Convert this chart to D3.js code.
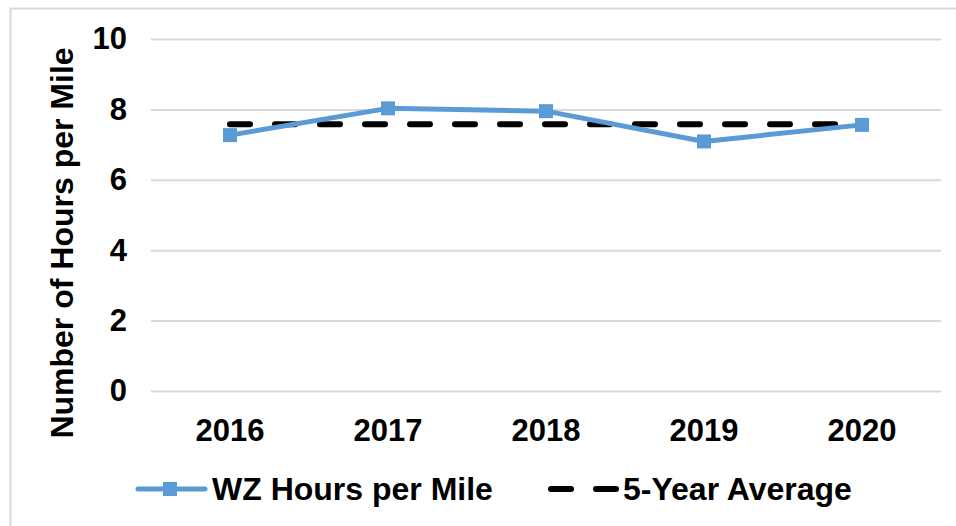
<!DOCTYPE html>
<html>
<head>
<meta charset="utf-8">
<script src="https://cdn.jsdelivr.net/npm/d3@7"></script>
<style>
  body { margin: 0; background: #fff; }
  text { font-family: "Liberation Sans", Arial, sans-serif; font-weight: bold; fill: #000; }
</style>
</head>
<body>
<div id="chart"></div>
<script>
const years = ["2016", "2017", "2018", "2019", "2020"];
const hoursPerMile = [7.27, 8.03, 7.95, 7.09, 7.56];
const fiveYearAverage = [7.58, 7.58, 7.58, 7.58, 7.58];
const yTicks = [0, 2, 4, 6, 8, 10];

const width = 956, height = 526;
const margin = { left: 151, right: 15, top: 39, bottom: 135 };

const svg = d3.select('#chart').append('svg')
    .attr('width', width)
    .attr('height', height);

// outer frame (runs off the right and bottom edges)
svg.append('rect')
    .attr('x', 10.5).attr('y', 8.5)
    .attr('width', 960).attr('height', 530)
    .attr('fill', 'none')
    .attr('stroke', '#d9d9d9')
    .attr('stroke-width', 2);

const x = d3.scaleBand()
    .domain(years)
    .range([margin.left, width - margin.right]);

const y = d3.scaleLinear()
    .domain([0, 10])
    .range([height - margin.bottom, margin.top]);

// gridlines
svg.append('g')
    .attr('transform', `translate(${margin.left},0)`)
    .call(d3.axisLeft(y).tickValues(yTicks).tickSize(-(width - margin.left - margin.right)).tickFormat(''))
    .call(g => g.select('.domain').remove())
    .call(g => g.selectAll('line').attr('stroke', '#d9d9d9').attr('stroke-width', 2));

// y tick labels
svg.append('g')
    .attr('transform', `translate(${margin.left},0)`)
    .call(d3.axisLeft(y).tickValues(yTicks).tickSize(0).tickPadding(24))
    .call(g => g.select('.domain').remove())
    .call(g => g.selectAll('text')
        .style('font-size', '31px')
        .style('font-family', '"Liberation Sans", Arial, sans-serif')
        .style('font-weight', 'bold')
        .attr('fill', '#000'));

// x tick labels
svg.append('g')
    .attr('transform', `translate(0,${height - margin.bottom})`)
    .call(d3.axisBottom(x).tickSize(0).tickPadding(28))
    .call(g => g.select('.domain').remove())
    .call(g => g.selectAll('text')
        .style('font-size', '31px')
        .style('font-family', '"Liberation Sans", Arial, sans-serif')
        .style('font-weight', 'bold')
        .attr('fill', '#000'));

// y axis title
svg.append('text')
    .attr('transform', `translate(73,243) rotate(-90)`)
    .attr('text-anchor', 'middle')
    .style('font-size', '32px')
    .text('Number of Hours per Mile');

const cx = d => x(d) + x.bandwidth() / 2;

const line = d3.line()
    .x((d, i) => cx(years[i]))
    .y(d => y(d));

// 5-year average dashed line
svg.append('path')
    .datum(fiveYearAverage)
    .attr('d', line)
    .attr('fill', 'none')
    .attr('stroke', '#000')
    .attr('stroke-width', 6)
    .attr('stroke-dasharray', '20 25')
    .attr('stroke-linecap', 'round');

// WZ hours per mile
svg.append('path')
    .datum(hoursPerMile)
    .attr('d', line)
    .attr('fill', 'none')
    .attr('stroke', '#5b9bd5')
    .attr('stroke-width', 5)
    .attr('stroke-linejoin', 'round');

svg.selectAll('.marker')
    .data(hoursPerMile)
    .enter()
    .append('rect')
    .attr('class', 'marker')
    .attr('x', (d, i) => cx(years[i]) - 7)
    .attr('y', d => y(d) - 7)
    .attr('width', 14)
    .attr('height', 14)
    .attr('fill', '#5b9bd5');

// legend
const legendY = 489;
const legend = svg.append('g');

legend.append('line')
    .attr('x1', 138).attr('x2', 205)
    .attr('y1', legendY).attr('y2', legendY)
    .attr('stroke', '#5b9bd5')
    .attr('stroke-width', 5)
    .attr('stroke-linecap', 'round');

legend.append('rect')
    .attr('x', 163).attr('y', legendY - 7)
    .attr('width', 14).attr('height', 14)
    .attr('fill', '#5b9bd5');

legend.append('text')
    .attr('x', 212).attr('y', legendY)
    .attr('dy', '0.35em')
    .style('font-size', '32px')
    .text('WZ Hours per Mile');

legend.append('line')
    .attr('x1', 551).attr('x2', 616)
    .attr('y1', legendY).attr('y2', legendY)
    .attr('stroke', '#000')
    .attr('stroke-width', 6)
    .attr('stroke-dasharray', '20 25')
    .attr('stroke-linecap', 'round');

legend.append('text')
    .attr('x', 623).attr('y', legendY)
    .attr('dy', '0.35em')
    .style('font-size', '32px')
    .text('5-Year Average');
</script>
</body>
</html>
